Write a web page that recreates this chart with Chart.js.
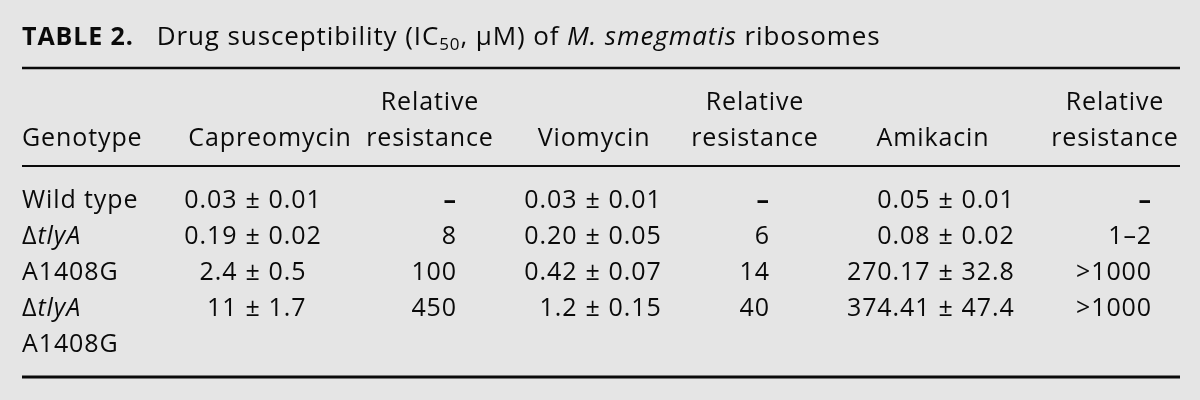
<!DOCTYPE html>
<html>
<head>
<meta charset="utf-8">
<script src="https://cdn.jsdelivr.net/npm/chart.js@4.4.1/dist/chart.umd.min.js"></script>
<style>
  html, body { margin: 0; padding: 0; background: #e5e5e5; }
  #wrap { width: 1200px; height: 400px; }
</style>
</head>
<body>
<div id="wrap"><canvas id="tableChart"></canvas></div>
<script>
// table content
const genotypes = ['Wild type', 'ΔtlyA', 'A1408G', 'ΔtlyA\nA1408G'];
const capreomycin = ['0.03', '0.19', '2.4', '11'];
const capreomycinSD = ['0.01', '0.02', '0.5', '1.7'];
const capreomycinRel = ['–', '8', '100', '450'];
const viomycin = ['0.03', '0.20', '0.42', '1.2'];
const viomycinSD = ['0.01', '0.05', '0.07', '0.15'];
const viomycinRel = ['–', '6', '14', '40'];
const amikacin = ['0.05', '0.08', '270.17', '374.41'];
const amikacinSD = ['0.01', '0.02', '32.8', '47.4'];
const amikacinRel = ['–', '1–2', '>1000', '>1000'];
const headerTop = ['', '', 'Relative', '', 'Relative', '', 'Relative'];
const headerBottom = ['Genotype', 'Capreomycin', 'resistance', 'Viomycin', 'resistance', 'Amikacin', 'resistance'];

// layout (px in the 1200x400 frame)
const FONT = '"Open Sans", sans-serif';
const SIZE = 25;
const SPACING = '0.9px';
const headerX = [22, 270, 430, 594, 755, 933, 1115];
const pmX = { cap: 253, vio: 593, ami: 946 };
const relRight = [457, 770, 1152];
const rowBase = [208, 244, 280, 316];
const lineStep = 36;

function font(style) {
    let f = '';
    if (style.i) f += 'italic ';
    f += style.b ? 'bold ' : '500 ';
    return f + (style.size || SIZE) + 'px ' + FONT;
}

// draw a list of {t, i, b, sub, size} runs anchored at x
function drawRuns(ctx, runs, x, y, align) {
    let total = 0;
    const sz = r => r.sub ? 17 : (r.size || SIZE);
    runs.forEach(r => {
        ctx.font = font({ i: r.i, b: r.b, size: sz(r) });
        r.w = ctx.measureText(r.t).width;
        total += r.w;
    });
    let cx = align === 'center' ? x - total / 2 : align === 'right' ? x - total : x;
    runs.forEach(r => {
        ctx.font = font({ i: r.i, b: r.b, size: sz(r) });
        ctx.fillText(r.t, cx, r.sub ? y + 5 : y);
        cx += r.w;
    });
}

function genoRuns(s) {
    if (s.startsWith('Δ')) return [{ t: 'Δ' }, { t: s.slice(1), i: true }];
    return [{ t: s }];
}

function relRuns(s) {
    return [{ t: s, b: s === '–' }];
}

const tablePlugin = {
    id: 'tablePlugin',
    beforeDraw(chart) {
        const ctx = chart.ctx;
        ctx.save();
        ctx.fillStyle = '#e5e5e5';
        ctx.fillRect(0, 0, chart.width, chart.height);
        ctx.restore();
    },
    afterDraw(chart) {
        const ctx = chart.ctx;
        const X = v => chart.scales.x.getPixelForValue(v);
        const Y = v => chart.scales.y.getPixelForValue(v);
        ctx.save();
        ctx.fillStyle = '#0a0a0a';
        ctx.textAlign = 'left';
        ctx.textBaseline = 'alphabetic';
        ctx.letterSpacing = SPACING;

        // title
        drawRuns(ctx, [
            { t: 'TABLE 2.', b: true, size: 25 },
            { t: '   Drug susceptibility (IC', size: 26 },
            { t: '50', sub: true },
            { t: ', μM) of ', size: 26 },
            { t: 'M. smegmatis', i: true, size: 26 },
            { t: ' ribosomes', size: 26 }
        ], X(22), Y(45), 'left');

        // rules
        ctx.strokeStyle = '#0a0a0a';
        [[68, 2.5], [166, 2], [377, 3]].forEach(([y, w]) => {
            ctx.lineWidth = w;
            ctx.beginPath();
            ctx.moveTo(X(22), Y(y));
            ctx.lineTo(X(1180), Y(y));
            ctx.stroke();
        });

        // header
        headerBottom.forEach((h, c) => {
            const align = c === 0 ? 'left' : 'center';
            if (headerTop[c]) drawRuns(ctx, [{ t: headerTop[c] }], X(headerX[c]), Y(110), align);
            drawRuns(ctx, [{ t: h }], X(headerX[c]), Y(146), align);
        });

        // body
        const pmCell = (val, sd, px, y) => {
            ctx.font = font({});
            const pw = ctx.measureText('±').width;
            const gap = 8;
            drawRuns(ctx, [{ t: val }], X(px) - pw / 2 - gap, y, 'right');
            drawRuns(ctx, [{ t: '±' }], X(px), y, 'center');
            drawRuns(ctx, [{ t: sd }], X(px) + pw / 2 + gap, y, 'left');
        };
        genotypes.forEach((g, r) => {
            const y = Y(rowBase[r]);
            g.split('\n').forEach((part, k) => {
                drawRuns(ctx, genoRuns(part), X(22), y + k * lineStep, 'left');
            });
            pmCell(capreomycin[r], capreomycinSD[r], pmX.cap, y);
            drawRuns(ctx, relRuns(capreomycinRel[r]), X(relRight[0]), y, 'right');
            pmCell(viomycin[r], viomycinSD[r], pmX.vio, y);
            drawRuns(ctx, relRuns(viomycinRel[r]), X(relRight[1]), y, 'right');
            pmCell(amikacin[r], amikacinSD[r], pmX.ami, y);
            drawRuns(ctx, relRuns(amikacinRel[r]), X(relRight[2]), y, 'right');
        });
        ctx.restore();
    }
};

new Chart(document.getElementById('tableChart'), {
    type: 'scatter',
    data: { datasets: [{ data: [], pointRadius: 0 }] },
    options: {
        responsive: true,
        maintainAspectRatio: false,
        animation: false,
        layout: { padding: 0 },
        plugins: { legend: { display: false }, tooltip: { enabled: false } },
        scales: {
            x: { type: 'linear', min: 0, max: 1200, display: false },
            y: { type: 'linear', min: 0, max: 400, reverse: true, display: false }
        }
    },
    plugins: [tablePlugin]
});
</script>
</body>
</html>
